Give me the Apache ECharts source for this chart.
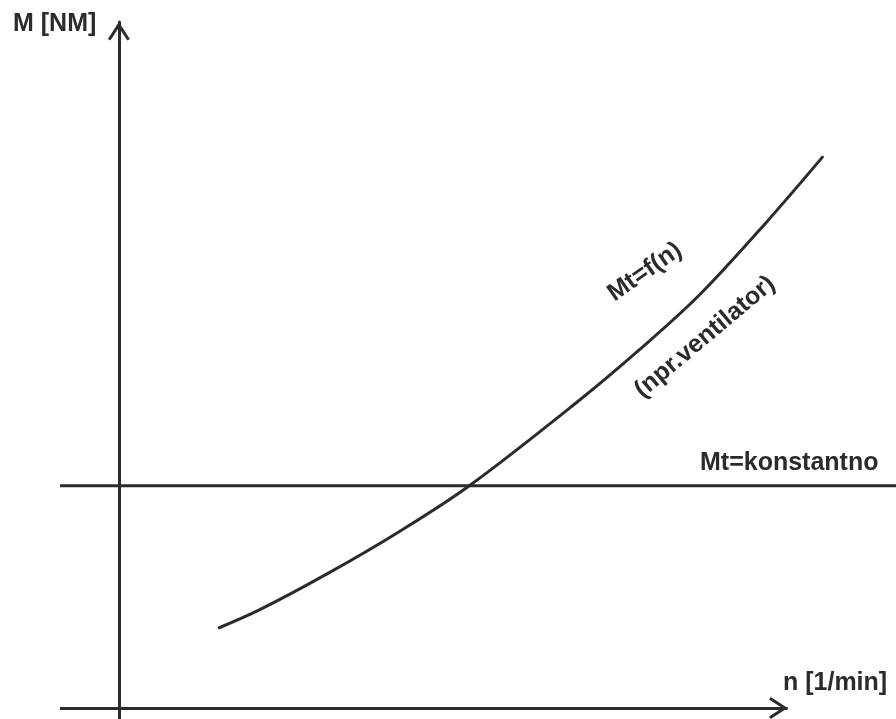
<!DOCTYPE html>
<html>
<head>
<meta charset="utf-8">
<style>
  html, body { margin: 0; padding: 0; background: #fff; }
  #chart { width: 896px; height: 719px; }
</style>
<script src="https://cdn.jsdelivr.net/npm/echarts@6/dist/echarts.min.js"></script>
</head>
<body>
<div id="chart"></div>
<script>
// load torque rising with speed (fan type)
const curveN = [15, 21, 31.4, 41.9, 52.4, 68.9, 77.8, 86.8, 96.9, 105.2]
const curveM = [11.7, 14.3, 19.7, 25.7, 32.4, 44.9, 52.2, 60.2, 70.9, 80.3]
// constant load torque
const constN = [-8.8, 116.2]
const constM = [32.4, 32.4]

// plotted window; the n axis arrow stops at nArrowEnd
const nRange = [-8.8, 116.2]
const mRange = [-1.6, 100]
const nArrowEnd = 100

const yName = 'M [NM]'
const xName = 'n [1/min]'
const constName = 'Mt=konstantno'
const curveName = 'Mt=f(n)'
const curveNote = '(npr.ventilator)'

const ink = '#2b2b2b'
const font = '"Liberation Sans", Arial, sans-serif'

// open chevron, pointing up, drawn as a thin filled outline
const chevron = 'path://M0,17 L11,0 L22,17 L19.48,18.63 L11,5.53 L2.52,18.63 Z'
const chevronSize = [22, 18.6]

const textStyle = (size) => ({
  fill: ink,
  font: 'bold ' + size + 'px ' + font,
})

const buildOption = () => ({
  backgroundColor: '#fff',
  animation: false,
  grid: { left: 60, right: 0, top: 22, bottom: 0 },
  xAxis: {
    type: 'value',
    min: nRange[0],
    max: nRange[1],
    axisLine: { show: false },
    axisTick: { show: false },
    axisLabel: { show: false },
    splitLine: { show: false },
  },
  yAxis: {
    type: 'value',
    min: mRange[0],
    max: mRange[1],
    axisLine: {
      show: true,
      onZero: true,
      symbol: ['none', chevron],
      symbolSize: chevronSize,
      symbolOffset: [0, -chevronSize[1] / 2],
      lineStyle: { color: ink, width: 3 },
    },
    axisTick: { show: false },
    axisLabel: { show: false },
    splitLine: { show: false },
  },
  series: [
    {
      // n axis with its arrow
      type: 'line',
      data: [],
      silent: true,
      markLine: {
        silent: true,
        animation: false,
        symbol: ['none', chevron],
        symbolSize: chevronSize,
        symbolOffset: [[0, 0], [0, chevronSize[1] / 2]],
        label: { show: false },
        emphasis: { disabled: true },
        lineStyle: { color: ink, width: 3, type: 'solid' },
        data: [[{ coord: [nRange[0], 0] }, { coord: [nArrowEnd, 0] }]],
      },
    },
    {
      type: 'line',
      data: constN.map((n, i) => [n, constM[i]]),
      symbol: 'none',
      silent: true,
      lineStyle: { color: ink, width: 3 },
    },
    {
      type: 'line',
      data: curveN.map((n, i) => [n, curveM[i]]),
      symbol: 'none',
      smooth: 0.35,
      silent: true,
      lineStyle: { color: ink, width: 3, cap: 'round' },
    },
  ],
  graphic: [
    {
      type: 'text', x: 13, y: 24.5,
      style: { text: yName, textVerticalAlign: 'middle', ...textStyle(25) },
    },
    {
      type: 'text', x: 783, y: 683,
      style: { text: xName, textVerticalAlign: 'middle', ...textStyle(25) },
    },
    {
      type: 'text', x: 700, y: 463.5,
      style: { text: constName, textVerticalAlign: 'middle', ...textStyle(25) },
    },
    {
      type: 'text', x: 645, y: 272, rotation: 35 * Math.PI / 180,
      style: { text: curveName, textAlign: 'center', textVerticalAlign: 'middle', ...textStyle(25) },
    },
    {
      type: 'text', x: 705, y: 337, rotation: 40 * Math.PI / 180,
      style: { text: curveNote, textAlign: 'center', textVerticalAlign: 'middle', ...textStyle(25) },
    },
  ],
})

const chart = echarts.init(document.getElementById('chart'))
chart.setOption(buildOption())
window.addEventListener('resize', () => chart.resize())
</script>
</body>
</html>
